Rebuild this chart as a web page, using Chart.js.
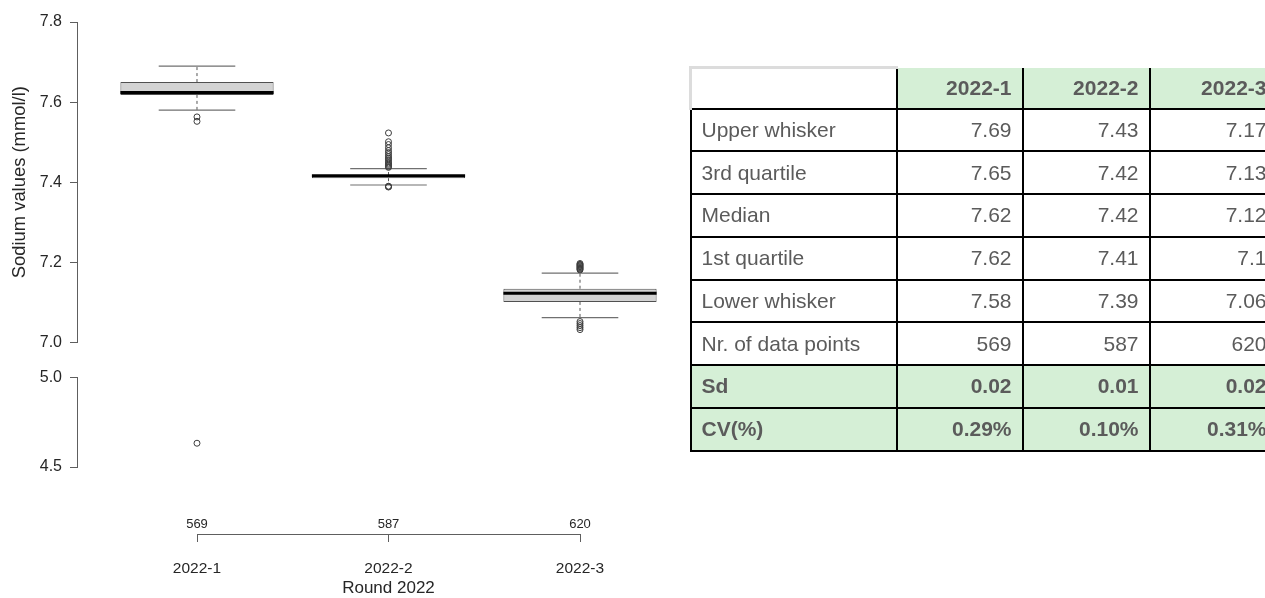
<!DOCTYPE html>
<html>
<head>
<meta charset="utf-8">
<title>Sodium values – Round 2022</title>
<script src="https://cdn.jsdelivr.net/npm/chart.js@4.4.1/dist/chart.umd.min.js"></script>
<style>
  html, body { margin: 0; padding: 0; background: #fff; width: 1265px; height: 598px; overflow: hidden; position: relative; }
  canvas { position: absolute; left: 0; }
  #upper { top: 0; }
  #lower { top: 360px; }
  #axis  { top: 500px; }
  #stats {
    position: absolute; left: 689px; top: 66px; width: 587px;
    border-collapse: collapse; table-layout: fixed;
    font-family: 'Liberation Sans', Arial, Helvetica, sans-serif;
    font-size: 21px; color: #5b5b5b;
  }
  #stats td, #stats th { border: 2px solid #000; padding: 0 10px; text-align: right; vertical-align: middle; white-space: nowrap; overflow: hidden; }
  #stats td.lbl { text-align: left; }
  #stats tr { height: 42.75px; }
  #stats tr.head { height: 41px; }
  #stats th { background: #d5efd6; font-weight: bold; border-top: none; }
  #stats th.corner { background: #fff; border-top: 3px solid #dcdcdc; border-left: 3px solid #dcdcdc; }
  #stats tr.bold td { background: #d5efd6; font-weight: bold; }
</style>
</head>
<body>
<canvas id="upper" width="690" height="360"></canvas>
<canvas id="lower" width="690" height="130"></canvas>
<canvas id="axis" width="690" height="98"></canvas>
<table id="stats">
  <colgroup><col style="width:206px"><col style="width:126px"><col style="width:127px"><col style="width:128px"></colgroup>
</table>
<script>
// ---- data -------------------------------------------------------------
const rounds = ['2022-1', '2022-2', '2022-3'];
const counts = [569, 587, 620];

const upperWhisker  = [7.690, 7.434, 7.173];
const thirdQuartile = [7.650, 7.418, 7.134];
const medians       = [7.624, 7.416, 7.123];
const firstQuartile = [7.618, 7.410, 7.101];
const lowerWhisker  = [7.580, 7.393, 7.062];

const sdValues = ['0.02', '0.01', '0.02'];
const cvValues = ['0.29%', '0.10%', '0.31%'];

const outliers2022_1 = [7.563, 7.552, 4.633];
const outliers2022_2 = [7.523, 7.501, 7.494, 7.486, 7.479, 7.474, 7.469, 7.464, 7.460,
                        7.456, 7.452, 7.448, 7.445, 7.442, 7.439, 7.437,
                        7.390, 7.389, 7.388];
const outliers2022_3 = [7.197, 7.195, 7.193, 7.191, 7.189, 7.187, 7.185, 7.183, 7.181,
                        7.052, 7.047, 7.042, 7.037, 7.032];
const outliers = [outliers2022_1, outliers2022_2, outliers2022_3];

// y ranges of the two panels of the broken axis
const upperRange = [7.0, 7.8];
const lowerRange = [4.5, 5.0];

// ---- shared styling -----------------------------------------------------
Chart.defaults.font.family = "'Liberation Sans', Arial, Helvetica, sans-serif";
Chart.defaults.color = '#262626';
Chart.defaults.animation = false;
Chart.defaults.events = [];
Chart.defaults.plugins.legend.display = false;
Chart.defaults.plugins.tooltip.enabled = false;

const AXIS_GREY = '#5e5e5e';
const BOX_HALF = 0.4;   // half box width (x units)
const CAP_HALF = 0.2;   // half whisker-cap width (x units)
const positions = rounds.map((_, i) => i + 1);

function segments(list) {
  const pts = [];
  list.forEach(([x0, y0, x1, y1]) => {
    pts.push({ x: x0, y: y0 }, { x: x1, y: y1 }, { x: x1, y: null });
  });
  return pts;
}

// both panels share the same horizontal range so the rounds line up with the axis below
function panelX() {
  return {
    type: 'linear', display: false, offset: false, grid: { offset: false },
    min: 0.37337, max: 3.51697,
    afterBuildTicks: s => { s.ticks = positions.map(v => ({ value: v })); }
  };
}

function panelY(range, step, title) {
  return {
    type: 'linear', min: range[0], max: range[1],
    afterFit: s => { s.width = 77; },
    ticks: { stepSize: step, padding: 8, font: { size: 16 }, callback: v => Number(v).toFixed(1) },
    grid: { display: true, drawOnChartArea: false, drawTicks: true, tickLength: 7, color: AXIS_GREY, lineWidth: 1 },
    border: { display: true, color: AXIS_GREY, width: 1 },
    title: title
      ? { display: true, text: title, font: { size: 18.4 }, color: '#262626', padding: { top: 9, bottom: 0 } }
      : { display: false }
  };
}

function outlierPoints(range) {
  const pts = [];
  outliers.forEach((vals, i) => {
    vals.filter(v => v >= range[0] && v <= range[1]).forEach(v => pts.push({ x: positions[i], y: v }));
  });
  return pts;
}

const outlierStyle = {
  type: 'scatter', pointStyle: 'circle', pointRadius: 3, borderWidth: 1,
  borderColor: '#3c3c3c', backgroundColor: 'rgba(0,0,0,0)', order: 0
};

const panelLayout = (top, bottom) => ({ padding: { top, bottom, left: 0, right: 11 } });

// ---- upper panel: boxes, whiskers, outliers ----------------------------
new Chart(document.getElementById('upper'), {
  type: 'bar',
  data: {
    datasets: [
      Object.assign({ data: outlierPoints(upperRange) }, outlierStyle),
      {
        type: 'line', order: 1,
        data: segments(positions.map((p, i) => [p - BOX_HALF, medians[i], p + BOX_HALF, medians[i]])),
        borderColor: '#000', borderWidth: 3, pointRadius: 0, spanGaps: false, borderCapStyle: 'butt'
      },
      {
        type: 'line', order: 2,
        data: segments(positions.flatMap((p, i) => [
          [p - CAP_HALF, upperWhisker[i], p + CAP_HALF, upperWhisker[i]],
          [p - CAP_HALF, lowerWhisker[i], p + CAP_HALF, lowerWhisker[i]]
        ])),
        borderColor: '#707070', borderWidth: 1.2, pointRadius: 0, spanGaps: false
      },
      {
        type: 'bar', order: 3,
        data: positions.map((p, i) => ({ x: p, y: [firstQuartile[i], thirdQuartile[i]] })),
        backgroundColor: '#d3d3d3', borderColor: '#505050', borderWidth: 1, borderSkipped: false,
        categoryPercentage: 1, barPercentage: 0.8
      },
      {
        type: 'line', order: 4,
        data: segments(positions.flatMap((p, i) => [
          [p, thirdQuartile[i], p, upperWhisker[i]],
          [p, firstQuartile[i], p, lowerWhisker[i]]
        ])),
        borderColor: '#555', borderWidth: 1, borderDash: [3, 3], pointRadius: 0, spanGaps: false
      }
    ]
  },
  options: {
    responsive: false, devicePixelRatio: 1,
    layout: panelLayout(22, 12),
    scales: { x: panelX(), y: panelY(upperRange, 0.2, 'Sodium values (mmol/l)') }
  }
});

// ---- lower panel: low outliers -----------------------------------------
new Chart(document.getElementById('lower'), {
  type: 'scatter',
  data: { datasets: [Object.assign({ data: outlierPoints(lowerRange) }, outlierStyle)] },
  options: {
    responsive: false, devicePixelRatio: 1,
    layout: panelLayout(17, 23),
    scales: { x: panelX(), y: panelY(lowerRange, 0.5, null) }
  }
});

// ---- x axis with counts --------------------------------------------------
new Chart(document.getElementById('axis'), {
  type: 'scatter',
  data: { datasets: [] },
  options: {
    responsive: false, devicePixelRatio: 1,
    layout: { padding: { top: 0, bottom: 0, left: 197, right: 110 } },
    scales: {
      x: {
        type: 'linear', position: 'bottom', min: 1, max: 3,
        afterBuildTicks: s => { s.ticks = positions.map(v => ({ value: v })); },
        afterFit: s => { s.height = 64; },
        ticks: { padding: 17, font: { size: 15.5 }, maxRotation: 0, autoSkip: false,
                 callback: v => rounds[Math.round(v) - 1] },
        grid: { display: true, drawOnChartArea: false, drawTicks: true, tickLength: 8, color: AXIS_GREY },
        border: { display: true, color: AXIS_GREY, width: 1 },
        title: { display: true, text: 'Round 2022', font: { size: 17 }, color: '#262626', padding: { top: 1, bottom: -1 } }
      },
      x2: {
        type: 'linear', position: 'top', axis: 'x', min: 1, max: 3,
        afterBuildTicks: s => { s.ticks = positions.map(v => ({ value: v })); },
        afterFit: s => { s.height = 31; },
        ticks: { padding: -0.8, font: { size: 13 }, maxRotation: 0, autoSkip: false,
                 callback: v => String(counts[Math.round(v) - 1]) },
        grid: { display: false, drawTicks: false, tickLength: 0 },
        border: { display: false }
      },
      y: { display: false, min: 0, max: 1 }
    }
  }
});

// ---- summary table ------------------------------------------------------
const fmt = v => String(parseFloat(v.toFixed(2)));
const statRows = [
  ['Upper whisker', upperWhisker.map(fmt)],
  ['3rd quartile', thirdQuartile.map(fmt)],
  ['Median', medians.map(fmt)],
  ['1st quartile', firstQuartile.map(fmt)],
  ['Lower whisker', lowerWhisker.map(fmt)],
  ['Nr. of data points', counts.map(String)]
];
const boldRows = [['Sd', sdValues], ['CV(%)', cvValues]];

const table = document.getElementById('stats');
let html = '<tr class="head"><th class="corner"></th>' + rounds.map(r => '<th>' + r + '</th>').join('') + '</tr>';
statRows.forEach(([name, vals]) => {
  html += '<tr><td class="lbl">' + name + '</td>' + vals.map(v => '<td>' + v + '</td>').join('') + '</tr>';
});
boldRows.forEach(([name, vals]) => {
  html += '<tr class="bold"><td class="lbl">' + name + '</td>' + vals.map(v => '<td>' + v + '</td>').join('') + '</tr>';
});
table.insertAdjacentHTML('beforeend', html);
</script>
</body>
</html>
